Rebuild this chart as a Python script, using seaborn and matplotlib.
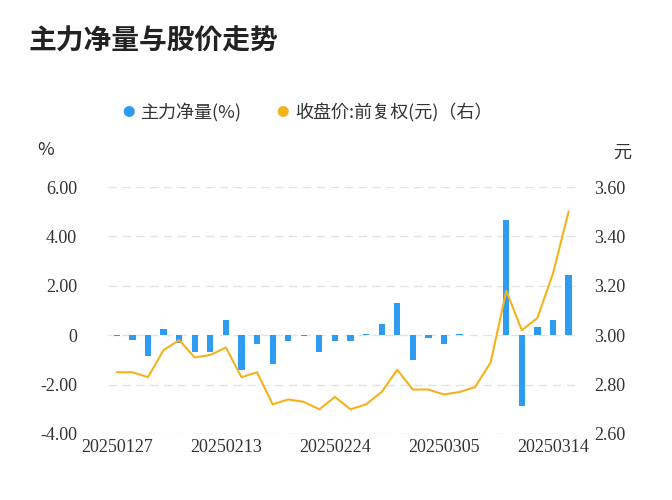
import matplotlib
matplotlib.use("Agg")
import matplotlib.pyplot as plt
import seaborn as sns
import pandas as pd
import numpy as np

plt.rcParams["font.family"] = ["Noto Sans CJK JP", "Noto Sans CJK SC", "DejaVu Sans"]

dates = ["20250127", "20250205", "20250206", "20250207", "20250210", "20250211",
         "20250212", "20250213", "20250214", "20250217", "20250218", "20250219",
         "20250220", "20250221", "20250224", "20250225", "20250226", "20250227",
         "20250228", "20250303", "20250304", "20250305", "20250306", "20250307",
         "20250310", "20250311", "20250312", "20250313", "20250314", "20250317"]
net_flow = [-0.02, -0.2, -0.85, 0.25, -0.3, -0.7, -0.7, 0.6, -1.4, -0.35,
            -1.15, -0.25, -0.02, -0.7, -0.25, -0.25, 0.05, 0.45, 1.3, -1.0,
            -0.1, -0.35, 0.03, 0.01, 0.01, 4.65, -2.85, 0.35, 0.6, 2.45]
price = [2.85, 2.85, 2.83, 2.94, 2.98, 2.91, 2.92, 2.95, 2.83, 2.85,
         2.72, 2.74, 2.73, 2.70, 2.75, 2.70, 2.72, 2.77, 2.86, 2.78,
         2.78, 2.76, 2.77, 2.79, 2.89, 3.18, 3.02, 3.07, 3.25, 3.50]
left_ticks = [-4, -2, 0, 2, 4, 6]
left_labels = ["-4.00", "-2.00", "0", "2.00", "4.00", "6.00"]
right_ticks = [2.6, 2.8, 3.0, 3.2, 3.4, 3.6]

df = pd.DataFrame({"date": dates, "flow": net_flow, "price": price})

fig = plt.figure(figsize=(6.72, 5), dpi=100)
ax = fig.add_axes([0.16, 0.132, 0.70, 0.494])
sns.barplot(data=df, x="date", y="flow", color="#2e9cf2", saturation=1,
            width=0.4, ax=ax)
ax2 = ax.twinx()
ax2.plot(np.arange(len(dates)), df["price"], color="#f5b21b", lw=1.5)

ax.set_ylim(-4, 6)
ax2.set_ylim(2.6, 3.6)
ax.set_xlim(-0.6, len(dates) - 0.4)
ax.set_yticks(left_ticks)
ax.set_yticklabels(left_labels)
ax2.set_yticks(right_ticks)
ax2.set_yticklabels([f"{v:.2f}" for v in right_ticks])
idx = [0, 7, 14, 21, 28]
ax.set_xticks(idx)
ax.set_xticklabels([dates[i] for i in idx])
ax.set_xlabel("")
ax.set_ylabel("")
for a in (ax, ax2):
    for s in a.spines.values():
        s.set_visible(False)
    a.tick_params(length=0, labelsize=12, colors="#333333")
    for lab in a.get_xticklabels() + a.get_yticklabels():
        lab.set_fontfamily("Liberation Serif")
        lab.set_fontsize(13)
ax.tick_params(axis="y", pad=22)
ax2.tick_params(axis="y", pad=12)
ax.yaxis.grid(True, ls=(0, (6, 4)), color="#e3e3e3", lw=1)
ax.set_axisbelow(True)

fig.text(0.042, 0.9, "主力净量与股价走势", fontsize=20, fontweight="bold", color="#222222")
fig.text(0.055, 0.69, "%", fontsize=13, color="#333333")
fig.text(0.912, 0.685, "元", fontsize=13, color="#333333")
fig.text(0.182, 0.775, "●", fontsize=9, color="#2e9cf2", va="center")
fig.text(0.21, 0.775, "主力净量(%)", fontsize=13, color="#333333", va="center")
fig.text(0.412, 0.775, "●", fontsize=9, color="#f5b21b", va="center")
fig.text(0.44, 0.775, "收盘价:前复权(元)（右）", fontsize=13, color="#333333", va="center")

fig.savefig("out.png", dpi=100)
